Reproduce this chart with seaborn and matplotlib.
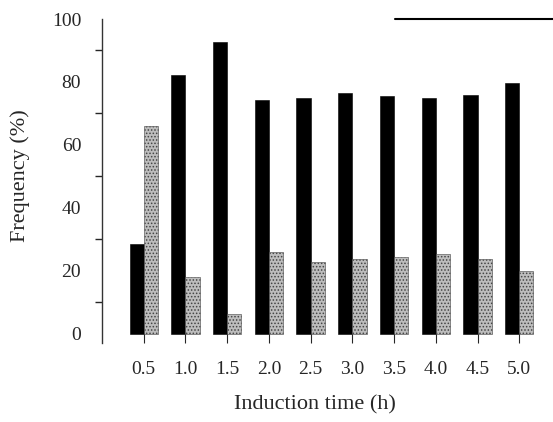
import matplotlib
matplotlib.use("Agg")
import matplotlib.pyplot as plt
from matplotlib.lines import Line2D
from matplotlib.ticker import MultipleLocator
import seaborn as sns
import pandas as pd

times = ["0.5", "1.0", "1.5", "2.0", "2.5", "3.0", "3.5", "4.0", "4.5", "5.0"]
series_a = [28.5, 82.2, 92.7, 74.3, 74.9, 76.5, 75.6, 74.9, 76.0, 79.7]
series_b = [66.0, 18.1, 6.3, 26.0, 22.9, 23.8, 24.4, 25.4, 23.8, 20.0]
series_names = ["A", "B"]

df = pd.DataFrame({
    "time": times * 2,
    "value": series_a + series_b,
    "series": [series_names[0]] * len(times) + [series_names[1]] * len(times),
})

sns.set_style("white")
plt.rcParams["font.family"] = ["Liberation Serif", "DejaVu Serif"]
plt.rcParams["hatch.color"] = "#444444"
plt.rcParams["hatch.linewidth"] = 0.7

fig = plt.figure(figsize=(5.53, 4.22), dpi=100)
W = 553 - 102 + 3
H = 343 - 19
ax = fig.add_axes([102 / 553, 1 - 343 / 422, W / 553, H / 422])

sns.barplot(data=df, x="time", y="value", hue="series", order=times,
            palette=["black", "#bdbdbd"], width=0.68, saturation=1,
            edgecolor="black", linewidth=0.4, legend=False, ax=ax)

for bar in ax.containers[1]:
    bar.set_hatch(".....")
    bar.set_edgecolor("#444444")

ax.set_ylim(-2.9, 100)
ax.set_xlim(-1.0, 9.88)
ax.set_yticks([0, 20, 40, 60, 80, 100])
ax.yaxis.set_minor_locator(MultipleLocator(10))
ax.tick_params(axis="y", which="major", direction="out", length=7, width=1.2, labelsize=14, pad=8)
ax.tick_params(axis="y", which="minor", direction="out", length=5, width=1, left=True)
ax.tick_params(axis="x", direction="in", length=7, width=0.8, labelsize=14, pad=13, bottom=True)

for s in ["top", "right", "bottom"]:
    ax.spines[s].set_visible(False)
ax.spines["left"].set_linewidth(1.0)
ax.spines["left"].set_color("#333333")

ax.set_xlabel("Induction time (h)", fontsize=16)
ax.set_ylabel("Frequency (%)", fontsize=16)
ax.xaxis.set_label_coords((315 - 102) / W, -(395 - 343) / H)
ax.yaxis.set_label_coords(-(102 - 30) / W, (343 - 176) / H)

fig.add_artist(Line2D([395 / 553, 1.0], [1 - 19 / 422, 1 - 19 / 422],
                      transform=fig.transFigure, color="black", linewidth=1.5))

fig.savefig("out.png", dpi=100)
